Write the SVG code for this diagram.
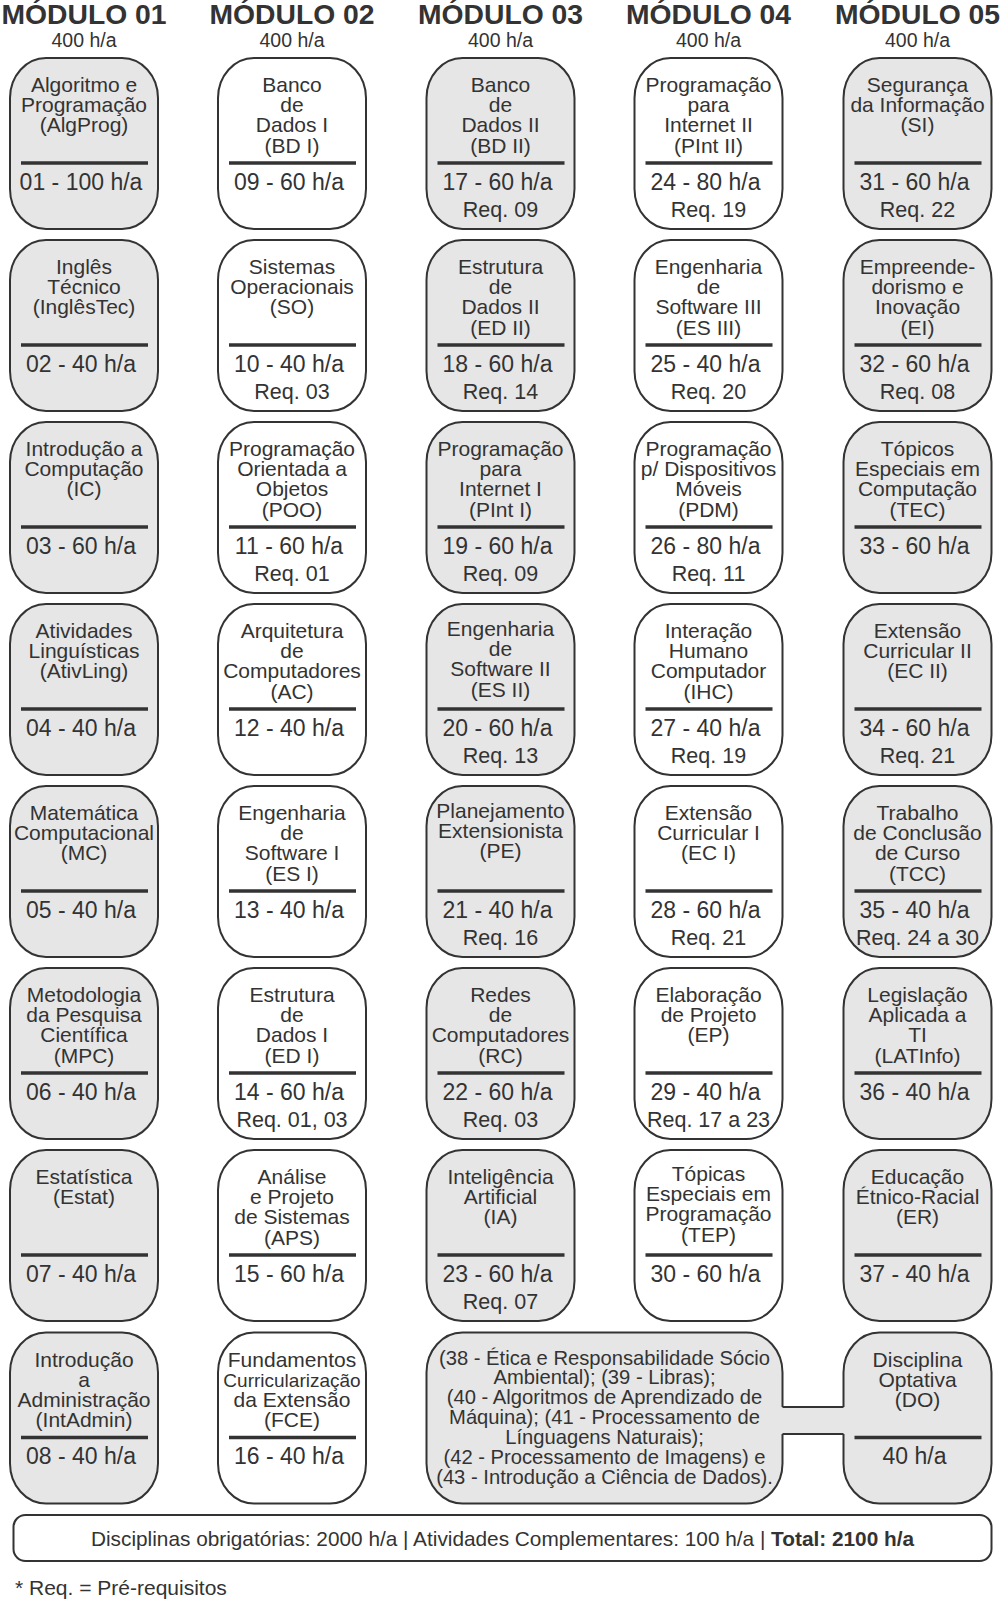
<svg xmlns="http://www.w3.org/2000/svg" width="1004" height="1600" viewBox="0 0 1004 1600">
<style>
.bx{stroke:#333;stroke-width:2}
.g{fill:#e6e6e6}
.w{fill:#fff}
.dv{stroke:#333;stroke-width:3.5}
text{font-family:"Liberation Sans",Arial,sans-serif;fill:#333;text-anchor:middle;font-size:21px}
.h{font-size:23px}
.r{font-size:21.5px}
.mt{font-size:28.3px;font-weight:bold}
.ms{font-size:19.5px}
.sm{font-size:19px}
.op{font-size:20.2px}
</style>
<rect width="1004" height="1600" fill="#fff"/>
<g id="headers">
<text class="mt" x="84" y="23.5">MÓDULO 01</text><text class="ms" x="84" y="47">400 h/a</text>
<text class="mt" x="292" y="23.5">MÓDULO 02</text><text class="ms" x="292" y="47">400 h/a</text>
<text class="mt" x="500.5" y="23.5">MÓDULO 03</text><text class="ms" x="500.5" y="47">400 h/a</text>
<text class="mt" x="708.5" y="23.5">MÓDULO 04</text><text class="ms" x="708.5" y="47">400 h/a</text>
<text class="mt" x="917.5" y="23.5">MÓDULO 05</text><text class="ms" x="917.5" y="47">400 h/a</text>
</g>
<!-- column 1 -->
<g id="n01" transform="translate(10,58)"><rect class="bx g" width="148" height="171" rx="36" ry="40"/><line class="dv" x1="11" y1="105" x2="138" y2="105"/><text><tspan x="74" y="34.2">Algoritmo e</tspan><tspan x="74" y="54.3">Programação</tspan><tspan x="74" y="74.4">(AlgProg)</tspan></text><text class="h" x="71" y="131.7">01 - 100 h/a</text></g>
<g id="n02" transform="translate(10,240)"><rect class="bx g" width="148" height="171" rx="36" ry="40"/><line class="dv" x1="11" y1="105" x2="138" y2="105"/><text><tspan x="74" y="34.2">Inglês</tspan><tspan x="74" y="54.3">Técnico</tspan><tspan x="74" y="74.4">(InglêsTec)</tspan></text><text class="h" x="71" y="131.7">02 - 40 h/a</text></g>
<g id="n03" transform="translate(10,422)"><rect class="bx g" width="148" height="171" rx="36" ry="40"/><line class="dv" x1="11" y1="105" x2="138" y2="105"/><text><tspan x="74" y="34.2">Introdução a</tspan><tspan x="74" y="54.3">Computação</tspan><tspan x="74" y="74.4">(IC)</tspan></text><text class="h" x="71" y="131.7">03 - 60 h/a</text></g>
<g id="n04" transform="translate(10,604)"><rect class="bx g" width="148" height="171" rx="36" ry="40"/><line class="dv" x1="11" y1="105" x2="138" y2="105"/><text><tspan x="74" y="34.2">Atividades</tspan><tspan x="74" y="54.3">Linguísticas</tspan><tspan x="74" y="74.4">(AtivLing)</tspan></text><text class="h" x="71" y="131.7">04 - 40 h/a</text></g>
<g id="n05" transform="translate(10,786)"><rect class="bx g" width="148" height="171" rx="36" ry="40"/><line class="dv" x1="11" y1="105" x2="138" y2="105"/><text><tspan x="74" y="34.2">Matemática</tspan><tspan x="74" y="54.3">Computacional</tspan><tspan x="74" y="74.4">(MC)</tspan></text><text class="h" x="71" y="131.7">05 - 40 h/a</text></g>
<g id="n06" transform="translate(10,968)"><rect class="bx g" width="148" height="171" rx="36" ry="40"/><line class="dv" x1="11" y1="105" x2="138" y2="105"/><text><tspan x="74" y="34.2">Metodologia</tspan><tspan x="74" y="54.3">da Pesquisa</tspan><tspan x="74" y="74.4">Científica</tspan><tspan x="74" y="94.5">(MPC)</tspan></text><text class="h" x="71" y="131.7">06 - 40 h/a</text></g>
<g id="n07" transform="translate(10,1150)"><rect class="bx g" width="148" height="171" rx="36" ry="40"/><line class="dv" x1="11" y1="105" x2="138" y2="105"/><text><tspan x="74" y="34.2">Estatística</tspan><tspan x="74" y="54.3">(Estat)</tspan></text><text class="h" x="71" y="131.7">07 - 40 h/a</text></g>
<g id="n08" transform="translate(10,1332.5)"><rect class="bx g" width="148" height="171" rx="36" ry="40"/><line class="dv" x1="11" y1="105" x2="138" y2="105"/><text><tspan x="74" y="34.2">Introdução</tspan><tspan x="74" y="54.3">a</tspan><tspan x="74" y="74.4">Administração</tspan><tspan x="74" y="94.5">(IntAdmin)</tspan></text><text class="h" x="71" y="131.7">08 - 40 h/a</text></g>
<!-- column 2 -->
<g id="n09" transform="translate(218,58)"><rect class="bx w" width="148" height="171" rx="36" ry="40"/><line class="dv" x1="11" y1="105" x2="138" y2="105"/><text><tspan x="74" y="34.2">Banco</tspan><tspan x="74" y="54.3">de</tspan><tspan x="74" y="74.4">Dados I</tspan><tspan x="74" y="94.5">(BD I)</tspan></text><text class="h" x="71" y="131.7">09 - 60 h/a</text></g>
<g id="n10" transform="translate(218,240)"><rect class="bx w" width="148" height="171" rx="36" ry="40"/><line class="dv" x1="11" y1="105" x2="138" y2="105"/><text><tspan x="74" y="34.2">Sistemas</tspan><tspan x="74" y="54.3">Operacionais</tspan><tspan x="74" y="74.4">(SO)</tspan></text><text class="h" x="71" y="131.7">10 - 40 h/a</text><text class="r" x="74" y="158.6">Req. 03</text></g>
<g id="n11" transform="translate(218,422)"><rect class="bx w" width="148" height="171" rx="36" ry="40"/><line class="dv" x1="11" y1="105" x2="138" y2="105"/><text><tspan x="74" y="34.2">Programação</tspan><tspan x="74" y="54.3">Orientada a</tspan><tspan x="74" y="74.4">Objetos</tspan><tspan x="74" y="94.5">(POO)</tspan></text><text class="h" x="71" y="131.7">11 - 60 h/a</text><text class="r" x="74" y="158.6">Req. 01</text></g>
<g id="n12" transform="translate(218,604)"><rect class="bx w" width="148" height="171" rx="36" ry="40"/><line class="dv" x1="11" y1="105" x2="138" y2="105"/><text><tspan x="74" y="34.2">Arquitetura</tspan><tspan x="74" y="54.3">de</tspan><tspan x="74" y="74.4">Computadores</tspan><tspan x="74" y="94.5">(AC)</tspan></text><text class="h" x="71" y="131.7">12 - 40 h/a</text></g>
<g id="n13" transform="translate(218,786)"><rect class="bx w" width="148" height="171" rx="36" ry="40"/><line class="dv" x1="11" y1="105" x2="138" y2="105"/><text><tspan x="74" y="34.2">Engenharia</tspan><tspan x="74" y="54.3">de</tspan><tspan x="74" y="74.4">Software I</tspan><tspan x="74" y="94.5">(ES I)</tspan></text><text class="h" x="71" y="131.7">13 - 40 h/a</text></g>
<g id="n14" transform="translate(218,968)"><rect class="bx w" width="148" height="171" rx="36" ry="40"/><line class="dv" x1="11" y1="105" x2="138" y2="105"/><text><tspan x="74" y="34.2">Estrutura</tspan><tspan x="74" y="54.3">de</tspan><tspan x="74" y="74.4">Dados I</tspan><tspan x="74" y="94.5">(ED I)</tspan></text><text class="h" x="71" y="131.7">14 - 60 h/a</text><text class="r" x="74" y="158.6">Req. 01, 03</text></g>
<g id="n15" transform="translate(218,1150)"><rect class="bx w" width="148" height="171" rx="36" ry="40"/><line class="dv" x1="11" y1="105" x2="138" y2="105"/><text><tspan x="74" y="34.2">Análise</tspan><tspan x="74" y="54.3">e Projeto</tspan><tspan x="74" y="74.4">de Sistemas</tspan><tspan x="74" y="94.5">(APS)</tspan></text><text class="h" x="71" y="131.7">15 - 60 h/a</text></g>
<g id="n16" transform="translate(218,1332.5)"><rect class="bx w" width="148" height="171" rx="36" ry="40"/><line class="dv" x1="11" y1="105" x2="138" y2="105"/><text><tspan x="74" y="34.2">Fundamentos</tspan><tspan class="sm" x="74" y="54.3">Curricularização</tspan><tspan x="74" y="74.4">da Extensão</tspan><tspan x="74" y="94.5">(FCE)</tspan></text><text class="h" x="71" y="131.7">16 - 40 h/a</text></g>
<!-- column 3 -->
<g id="n17" transform="translate(426.5,58)"><rect class="bx g" width="148" height="171" rx="36" ry="40"/><line class="dv" x1="11" y1="105" x2="138" y2="105"/><text><tspan x="74" y="34.2">Banco</tspan><tspan x="74" y="54.3">de</tspan><tspan x="74" y="74.4">Dados II</tspan><tspan x="74" y="94.5">(BD II)</tspan></text><text class="h" x="71" y="131.7">17 - 60 h/a</text><text class="r" x="74" y="158.6">Req. 09</text></g>
<g id="n18" transform="translate(426.5,240)"><rect class="bx g" width="148" height="171" rx="36" ry="40"/><line class="dv" x1="11" y1="105" x2="138" y2="105"/><text><tspan x="74" y="34.2">Estrutura</tspan><tspan x="74" y="54.3">de</tspan><tspan x="74" y="74.4">Dados II</tspan><tspan x="74" y="94.5">(ED II)</tspan></text><text class="h" x="71" y="131.7">18 - 60 h/a</text><text class="r" x="74" y="158.6">Req. 14</text></g>
<g id="n19" transform="translate(426.5,422)"><rect class="bx g" width="148" height="171" rx="36" ry="40"/><line class="dv" x1="11" y1="105" x2="138" y2="105"/><text><tspan x="74" y="34.2">Programação</tspan><tspan x="74" y="54.3">para</tspan><tspan x="74" y="74.4">Internet I</tspan><tspan x="74" y="94.5">(PInt I)</tspan></text><text class="h" x="71" y="131.7">19 - 60 h/a</text><text class="r" x="74" y="158.6">Req. 09</text></g>
<g id="n20" transform="translate(426.5,604)"><rect class="bx g" width="148" height="171" rx="36" ry="40"/><line class="dv" x1="11" y1="105" x2="138" y2="105"/><text><tspan x="74" y="32.2">Engenharia</tspan><tspan x="74" y="52.3">de</tspan><tspan x="74" y="72.4">Software II</tspan><tspan x="74" y="92.5">(ES II)</tspan></text><text class="h" x="71" y="131.7">20 - 60 h/a</text><text class="r" x="74" y="158.6">Req. 13</text></g>
<g id="n21" transform="translate(426.5,786)"><rect class="bx g" width="148" height="171" rx="36" ry="40"/><line class="dv" x1="11" y1="105" x2="138" y2="105"/><text><tspan x="74" y="32.2">Planejamento</tspan><tspan x="74" y="52.3">Extensionista</tspan><tspan x="74" y="72.4">(PE)</tspan></text><text class="h" x="71" y="131.7">21 - 40 h/a</text><text class="r" x="74" y="158.6">Req. 16</text></g>
<g id="n22" transform="translate(426.5,968)"><rect class="bx g" width="148" height="171" rx="36" ry="40"/><line class="dv" x1="11" y1="105" x2="138" y2="105"/><text><tspan x="74" y="34.2">Redes</tspan><tspan x="74" y="54.3">de</tspan><tspan x="74" y="74.4">Computadores</tspan><tspan x="74" y="94.5">(RC)</tspan></text><text class="h" x="71" y="131.7">22 - 60 h/a</text><text class="r" x="74" y="158.6">Req. 03</text></g>
<g id="n23" transform="translate(426.5,1150)"><rect class="bx g" width="148" height="171" rx="36" ry="40"/><line class="dv" x1="11" y1="105" x2="138" y2="105"/><text><tspan x="74" y="34.2">Inteligência</tspan><tspan x="74" y="54.3">Artificial</tspan><tspan x="74" y="74.4">(IA)</tspan></text><text class="h" x="71" y="131.7">23 - 60 h/a</text><text class="r" x="74" y="158.6">Req. 07</text></g>
<!-- column 4 -->
<g id="n24" transform="translate(634.5,58)"><rect class="bx w" width="148" height="171" rx="36" ry="40"/><line class="dv" x1="11" y1="105" x2="138" y2="105"/><text><tspan x="74" y="34.2">Programação</tspan><tspan x="74" y="54.3">para</tspan><tspan x="74" y="74.4">Internet II</tspan><tspan x="74" y="94.5">(PInt II)</tspan></text><text class="h" x="71" y="131.7">24 - 80 h/a</text><text class="r" x="74" y="158.6">Req. 19</text></g>
<g id="n25" transform="translate(634.5,240)"><rect class="bx w" width="148" height="171" rx="36" ry="40"/><line class="dv" x1="11" y1="105" x2="138" y2="105"/><text><tspan x="74" y="34.2">Engenharia</tspan><tspan x="74" y="54.3">de</tspan><tspan x="74" y="74.4">Software III</tspan><tspan x="74" y="94.5">(ES III)</tspan></text><text class="h" x="71" y="131.7">25 - 40 h/a</text><text class="r" x="74" y="158.6">Req. 20</text></g>
<g id="n26" transform="translate(634.5,422)"><rect class="bx w" width="148" height="171" rx="36" ry="40"/><line class="dv" x1="11" y1="105" x2="138" y2="105"/><text><tspan x="74" y="34.2">Programação</tspan><tspan x="74" y="54.3">p/ Dispositivos</tspan><tspan x="74" y="74.4">Móveis</tspan><tspan x="74" y="94.5">(PDM)</tspan></text><text class="h" x="71" y="131.7">26 - 80 h/a</text><text class="r" x="74" y="158.6">Req. 11</text></g>
<g id="n27" transform="translate(634.5,604)"><rect class="bx w" width="148" height="171" rx="36" ry="40"/><line class="dv" x1="11" y1="105" x2="138" y2="105"/><text><tspan x="74" y="34.2">Interação</tspan><tspan x="74" y="54.3">Humano</tspan><tspan x="74" y="74.4">Computador</tspan><tspan x="74" y="94.5">(IHC)</tspan></text><text class="h" x="71" y="131.7">27 - 40 h/a</text><text class="r" x="74" y="158.6">Req. 19</text></g>
<g id="n28" transform="translate(634.5,786)"><rect class="bx w" width="148" height="171" rx="36" ry="40"/><line class="dv" x1="11" y1="105" x2="138" y2="105"/><text><tspan x="74" y="34.2">Extensão</tspan><tspan x="74" y="54.3">Curricular I</tspan><tspan x="74" y="74.4">(EC I)</tspan></text><text class="h" x="71" y="131.7">28 - 60 h/a</text><text class="r" x="74" y="158.6">Req. 21</text></g>
<g id="n29" transform="translate(634.5,968)"><rect class="bx w" width="148" height="171" rx="36" ry="40"/><line class="dv" x1="11" y1="105" x2="138" y2="105"/><text><tspan x="74" y="34.2">Elaboração</tspan><tspan x="74" y="54.3">de Projeto</tspan><tspan x="74" y="74.4">(EP)</tspan></text><text class="h" x="71" y="131.7">29 - 40 h/a</text><text class="r" x="74" y="158.6">Req. 17 a 23</text></g>
<g id="n30" transform="translate(634.5,1150)"><rect class="bx w" width="148" height="171" rx="36" ry="40"/><line class="dv" x1="11" y1="105" x2="138" y2="105"/><text><tspan x="74" y="31.2">Tópicas</tspan><tspan x="74" y="51.3">Especiais em</tspan><tspan x="74" y="71.4">Programação</tspan><tspan x="74" y="91.5">(TEP)</tspan></text><text class="h" x="71" y="131.7">30 - 60 h/a</text></g>
<!-- column 5 -->
<g id="n31" transform="translate(843.5,58)"><rect class="bx g" width="148" height="171" rx="36" ry="40"/><line class="dv" x1="11" y1="105" x2="138" y2="105"/><text><tspan x="74" y="34.2">Segurança</tspan><tspan x="74" y="54.3">da Informação</tspan><tspan x="74" y="74.4">(SI)</tspan></text><text class="h" x="71" y="131.7">31 - 60 h/a</text><text class="r" x="74" y="158.6">Req. 22</text></g>
<g id="n32" transform="translate(843.5,240)"><rect class="bx g" width="148" height="171" rx="36" ry="40"/><line class="dv" x1="11" y1="105" x2="138" y2="105"/><text><tspan x="74" y="34.2">Empreende-</tspan><tspan x="74" y="54.3">dorismo e</tspan><tspan x="74" y="74.4">Inovação</tspan><tspan x="74" y="94.5">(EI)</tspan></text><text class="h" x="71" y="131.7">32 - 60 h/a</text><text class="r" x="74" y="158.6">Req. 08</text></g>
<g id="n33" transform="translate(843.5,422)"><rect class="bx g" width="148" height="171" rx="36" ry="40"/><line class="dv" x1="11" y1="105" x2="138" y2="105"/><text><tspan x="74" y="34.2">Tópicos</tspan><tspan x="74" y="54.3">Especiais em</tspan><tspan x="74" y="74.4">Computação</tspan><tspan x="74" y="94.5">(TEC)</tspan></text><text class="h" x="71" y="131.7">33 - 60 h/a</text></g>
<g id="n34" transform="translate(843.5,604)"><rect class="bx g" width="148" height="171" rx="36" ry="40"/><line class="dv" x1="11" y1="105" x2="138" y2="105"/><text><tspan x="74" y="34.2">Extensão</tspan><tspan x="74" y="54.3">Curricular II</tspan><tspan x="74" y="74.4">(EC II)</tspan></text><text class="h" x="71" y="131.7">34 - 60 h/a</text><text class="r" x="74" y="158.6">Req. 21</text></g>
<g id="n35" transform="translate(843.5,786)"><rect class="bx g" width="148" height="171" rx="36" ry="40"/><line class="dv" x1="11" y1="105" x2="138" y2="105"/><text><tspan x="74" y="34.2">Trabalho</tspan><tspan x="74" y="54.3">de Conclusão</tspan><tspan x="74" y="74.4">de Curso</tspan><tspan x="74" y="94.5">(TCC)</tspan></text><text class="h" x="71" y="131.7">35 - 40 h/a</text><text class="r" x="74" y="158.6">Req. 24 a 30</text></g>
<g id="n36" transform="translate(843.5,968)"><rect class="bx g" width="148" height="171" rx="36" ry="40"/><line class="dv" x1="11" y1="105" x2="138" y2="105"/><text><tspan x="74" y="34.2">Legislação</tspan><tspan x="74" y="54.3">Aplicada a</tspan><tspan x="74" y="74.4">TI</tspan><tspan x="74" y="94.5">(LATInfo)</tspan></text><text class="h" x="71" y="131.7">36 - 40 h/a</text></g>
<g id="n37" transform="translate(843.5,1150)"><rect class="bx g" width="148" height="171" rx="36" ry="40"/><line class="dv" x1="11" y1="105" x2="138" y2="105"/><text><tspan x="74" y="34.2">Educação</tspan><tspan x="74" y="54.3">Étnico-Racial</tspan><tspan x="74" y="74.4">(ER)</tspan></text><text class="h" x="71" y="131.7">37 - 40 h/a</text></g>
<!-- row 8 optativas -->
<g id="n_optativas"><rect class="bx g" x="426.5" y="1332.5" width="356" height="171" rx="36" ry="40"/><text class="op"><tspan x="604.5" y="1364.5">(38 - Ética e Responsabilidade Sócio</tspan><tspan x="604.5" y="1384.4">Ambiental); (39 - Libras);</tspan><tspan x="604.5" y="1404.3">(40 - Algoritmos de Aprendizado de</tspan><tspan x="604.5" y="1424.2">Máquina); (41 - Processamento de</tspan><tspan x="604.5" y="1444.1">Línguagens Naturais);</tspan><tspan x="604.5" y="1464">(42 - Processamento de Imagens) e</tspan><tspan x="604.5" y="1483.9">(43 - Introdução a Ciência de Dados).</tspan></text></g>
<g id="n_do" transform="translate(843.5,1332.5)"><rect class="bx g" width="148" height="171" rx="36" ry="40"/><line class="dv" x1="11" y1="105" x2="138" y2="105"/><text><tspan x="74" y="34.2">Disciplina</tspan><tspan x="74" y="54.3">Optativa</tspan><tspan x="74" y="74.4">(DO)</tspan></text><text class="h" x="71" y="131.7">40 h/a</text></g>
<g id="connectors">
<rect x="781" y="1407" width="64" height="27" fill="#e6e6e6"/>
<line class="bx" x1="782.5" y1="1407" x2="843.5" y2="1407"/>
<line class="bx" x1="782.5" y1="1434" x2="843.5" y2="1434"/>
</g>
<g id="footer">
<rect class="bx w" x="13.5" y="1515" width="978" height="46" rx="12" ry="12"/>
<text x="502.5" y="1546" style="font-size:20.8px">Disciplinas obrigatórias: 2000 h/a | Atividades Complementares: 100 h/a | <tspan font-weight="bold">Total: 2100 h/a</tspan></text>
<text x="15" y="1595" style="text-anchor:start">* Req. = Pré-requisitos</text>
</g>
</svg>
